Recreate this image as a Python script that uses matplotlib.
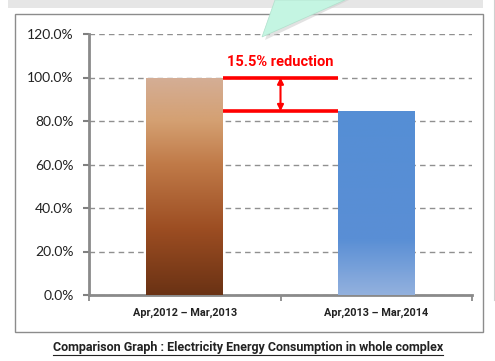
import matplotlib
matplotlib.use("Agg")
import matplotlib.pyplot as plt
import numpy as np
from matplotlib.colors import LinearSegmentedColormap
from matplotlib.patches import Polygon, Rectangle
from matplotlib.lines import Line2D

categories = ["Apr,2012 \u2013 Mar,2013", "Apr,2013 \u2013 Mar,2014"]
values = [100.0, 84.5]
reduction_label = "15.5% reduction"
yticks = [0, 20, 40, 60, 80, 100, 120]
title = "Comparison Graph : Electricity Energy Consumption in whole complex"

fig = plt.figure(figsize=(4.95, 3.61), dpi=100)
fig.patch.set_facecolor("white")

# background decorations (figure coords)
fig.patches.append(Rectangle((8/495, 1 - 8/361), (483-8)/495, 8/361, transform=fig.transFigure,
                             facecolor="#E6E6E6", edgecolor="none", zorder=0))
fig.patches.append(Rectangle((15/495, 1 - 332/361), (483-15)/495, (332-14)/361, transform=fig.transFigure,
                             facecolor="none", edgecolor="#8C8C8C", linewidth=1.0, zorder=0))
fig.lines.append(Line2D([494/495, 494/495], [1 - 300/361, 1.0], transform=fig.transFigure,
                        color="#D0D0D0", linewidth=0.8))

ax = fig.add_axes([89/495, 1 - 295/361, (472-89)/495, (295-34)/361])
ax.set_zorder(2)
ax.set_facecolor("none")
x = np.arange(len(categories))
bw = 0.4
bars = ax.bar(x, values, width=bw, color="none", edgecolor="none", zorder=3)

brown = LinearSegmentedColormap.from_list("brown", [
    (0.0, "#6A3214"), (0.3, "#9C4D22"), (0.6, "#C07A48"), (0.8, "#D4A072"), (1.0, "#D4AE96")])
blue = LinearSegmentedColormap.from_list("blue", [
    (0.0, "#93B1DE"), (0.3, "#5A8FD5"), (1.0, "#558ED5")])
for bar, cmap in zip(bars, [brown, blue]):
    x0, w, h = bar.get_x(), bar.get_width(), bar.get_height()
    grad = np.linspace(0, 1, 256).reshape(-1, 1)
    im = ax.imshow(grad, cmap=cmap, origin="lower", aspect="auto",
                   extent=[x0, x0 + w, 0, h], zorder=3)
    im.set_clip_path(bar)

ax.set_xlim(-0.5, 1.5)
ax.set_ylim(0, 120)
ax.set_yticks(yticks)
ax.set_yticklabels([f"{v:.1f}%" for v in yticks], fontsize=10, family="Lato", color="#222222")
ax.set_xticks(x)
ax.set_xticklabels(categories, fontsize=7.8, fontweight="bold", family="Roboto", color="#222222")
ax.tick_params(axis="x", length=0, pad=9)
ax.tick_params(axis="y", length=4, width=1.5, color="#808080", pad=7)
ax.set_xticks([-0.5, 0.5, 1.5], minor=True)
ax.tick_params(axis="x", which="minor", length=4, width=1.2, color="#808080", direction="out")
ax.grid(axis="y", linestyle=(0, (4, 3)), color="#909090", linewidth=1.0, zorder=1)
ax.set_axisbelow(True)
for s in ["top", "right"]:
    ax.spines[s].set_visible(False)
for s in ["left", "bottom"]:
    ax.spines[s].set_color("#8A8A8A")
    ax.spines[s].set_linewidth(2.0)

# reduction annotation
xl = bars[0].get_x() + bw
xr = bars[1].get_x()
for v in values:
    ax.plot([xl, xr], [v, v], color="#FF0000", linewidth=2.6, solid_capstyle="butt", zorder=5)
ax.annotate("", xy=(0.5, values[1]), xytext=(0.5, values[0]),
            arrowprops=dict(arrowstyle="<|-|>", color="#FF0000", lw=1.5,
                            mutation_scale=9, shrinkA=0, shrinkB=0), zorder=5)
ax.text(0.497, 107.2, reduction_label, color="#FF0000", fontsize=10.5, fontweight="bold",
        ha="center", va="center", family="Roboto", zorder=5)

# green callout pointer (with a soft shadow)
fig.patches.append(Polygon([(279/495, 1.0), (349/495, 1.0), (265/495, 1 - 40/361)], closed=True,
                           transform=fig.transFigure, facecolor="#CFCFCF", edgecolor="none",
                           alpha=0.6, zorder=9))
fig.patches.append(Polygon([(275/495, 1.0), (345/495, 1.0), (262/495, 1 - 37/361)], closed=True,
                           transform=fig.transFigure, facecolor="#C4F5E2", edgecolor="#B0E0CC",
                           linewidth=0.5, zorder=10))

# title with underline
t = fig.text(248/495, 1 - 347/361, title, ha="center", va="center", fontsize=9,
             fontweight="bold", family="Roboto", color="#222222")
fig.canvas.draw()
bb = t.get_window_extent()
uy = (bb.y0 - 1) / fig.bbox.height
fig.lines.append(Line2D([bb.x0 / fig.bbox.width, bb.x1 / fig.bbox.width], [uy, uy],
                        transform=fig.transFigure, color="#222222", linewidth=0.8))

fig.savefig("out.png", dpi=100)
